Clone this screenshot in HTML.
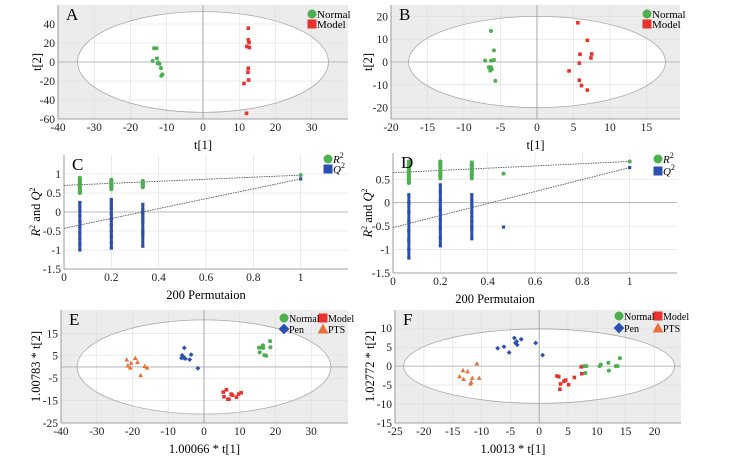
<!DOCTYPE html>
<html><head><meta charset="utf-8"><style>
body{margin:0;background:#fff;width:734px;height:457px;overflow:hidden}
svg, svg text{font-family:"Liberation Serif","DejaVu Serif",serif}
</style></head><body>
<svg id="fig" width="734" height="457" viewBox="0 0 734 457" font-family="Liberation Serif, DejaVu Serif, serif"></svg>
<script>
// ---- data ----
const aNormal=[[-13.5,14.5],[-12.8,14.5],[-13.9,1],[-12.7,3.8],[-12.5,-1.3],[-12,-2],[-11.6,-6.5],[-11.5,-14.5],[-11.2,-13],[-12.4,-0.6]];
const aModel=[[12.5,35.6],[12.5,23.3],[12.7,20.5],[12.1,16.3],[12.8,15.2],[12.5,-6.6],[12.4,-10.8],[12.6,-19],[11.3,-22.6],[12,-54]];
const bNormal=[[-6.3,13.6],[-5.9,5.1],[-7.1,0.6],[-6.3,0.6],[-5.9,0.9],[-6.6,-2.3],[-6.3,-2.3],[-6.4,-3.8],[-6.2,-3.2],[-5.7,-8.3]];
const bModel=[[5.6,17.2],[6.9,9.5],[5.9,3.4],[7.5,3.5],[7.4,1.8],[5.8,-0.5],[4.4,-3.9],[5.8,-8],[6.1,-10.3],[6.9,-12.3]];
const cR2=[[0.067,0.5],[0.067,0.55],[0.067,0.6],[0.067,0.65],[0.067,0.7],[0.067,0.75],[0.067,0.8],[0.067,0.85],[0.067,0.9],[0.2,0.6],[0.2,0.65],[0.2,0.7],[0.2,0.75],[0.2,0.8],[0.2,0.85],[0.333,0.65],[0.333,0.7],[0.333,0.75],[0.333,0.8],[0.333,0.82],[1,0.97]];
const cQ2=[[0.067,-1],[0.067,-0.85],[0.067,-0.7],[0.067,-0.55],[0.067,-0.4],[0.067,-0.25],[0.067,-0.1],[0.067,0.05],[0.067,0.15],[0.067,0.25],[0.2,-0.95],[0.2,-0.8],[0.2,-0.65],[0.2,-0.5],[0.2,-0.35],[0.2,-0.2],[0.2,-0.05],[0.2,0.1],[0.2,0.2],[0.2,0.33],[0.333,-0.9],[0.333,-0.6],[0.333,-0.5],[0.333,-0.25],[0.333,-0.15],[0.333,-0.05],[0.333,0.05],[0.333,0.2],[1,0.87]];
const cR2Line=[[0,0.7],[1,0.97]];
const cQ2Line=[[0,-0.43],[1,0.87]];
const dR2=[[0.067,0.42],[0.067,0.5],[0.067,0.6],[0.067,0.7],[0.067,0.8],[0.067,0.88],[0.2,0.52],[0.2,0.6],[0.2,0.7],[0.2,0.8],[0.2,0.88],[0.333,0.52],[0.333,0.6],[0.333,0.7],[0.333,0.8],[0.333,0.86],[0.467,0.62],[1,0.88]];
const dQ2=[[0.067,-1.18],[0.067,-1],[0.067,-0.8],[0.067,-0.6],[0.067,-0.4],[0.067,-0.2],[0.067,0],[0.067,0.17],[0.2,-0.92],[0.2,-0.75],[0.2,-0.55],[0.2,-0.35],[0.2,-0.15],[0.2,0.05],[0.2,0.25],[0.2,0.38],[0.333,-0.77],[0.333,-0.56],[0.333,-0.5],[0.333,-0.4],[0.333,-0.3],[0.333,-0.2],[0.333,-0.05],[0.333,0.05],[0.333,0.17],[0.467,-0.52],[1,0.75]];
const dR2Line=[[0,0.64],[1,0.88]];
const dQ2Line=[[0,-0.53],[1,0.75]];
const ePTS=[[-21.6,3.3],[-21.3,0.6],[-20.6,-0.3],[-20.4,1.8],[-19.2,4],[-18.6,2.2],[-17.7,-3.7],[-16.6,0.4],[-15.9,-0.3]];
const ePen=[[-5.5,8.5],[-6.1,5.2],[-6.3,4],[-5.6,4],[-5.2,3.7],[-3.6,5.5],[-4,3.3],[-1.7,-0.6],[-5.8,4.6]];
const eNormal=[[18.5,11.5],[15.4,8.6],[15.9,8.6],[16.5,9.6],[15.6,6.5],[16.9,5.3],[17.4,5],[18.6,8.8],[16.6,8.5]];
const eModel=[[6.3,-10.2],[5.4,-11.2],[5.6,-13.3],[6.7,-14.4],[7,-14.4],[7.6,-12.1],[9.1,-13.5],[9.7,-12.1],[10.4,-11.5],[8,-12.6]];
const fPen=[[-7.2,4.7],[-6.1,5.1],[-5.2,3.6],[-4.3,7.4],[-4.1,6.1],[-3.9,6.5],[-3.8,5.6],[-3.1,7.1],[-0.6,6.1],[0.6,2.9]];
const fPTS=[[-13.8,-2.7],[-13.2,-1.1],[-13.1,-3.4],[-12.4,-1.4],[-11.8,-4.2],[-11.6,-3.1],[-10.8,0.7],[-10.4,-3.1],[-11.9,-4.6]];
const fModel=[[3.1,-2.6],[3.4,-2.8],[3.7,-4.7],[3.6,-6.1],[4.3,-4],[4.6,-3.7],[5.1,-4.9],[6.1,-3],[7.3,-0.2],[7.4,-2]];
const fNormal=[[7.8,0],[8.2,0],[8,-1.8],[10.5,0],[10.7,0.4],[12,0.9],[12.1,-1.2],[13.3,0],[13.6,0],[14,2.1]];

const NS='http://www.w3.org/2000/svg';
const svg=document.getElementById('fig');
const FF='Liberation Serif, DejaVu Serif, serif';
function mk(tag,attrs,parent,name,text){const e=document.createElementNS(NS,tag);for(const k in attrs)e.setAttribute(k,attrs[k]);
if(tag==='text')e.setAttribute('font-family',FF);


if(text!==undefined)e.textContent=text;(parent||svg).appendChild(e);return e;}
const COL={green:'#4caf50',red:'#e8322d',blue:'#2b4fb0',orange:'#e8703a'};
function marker(g,shape,x,y,s,color,name){
 if(shape==='c')mk('circle',{cx:x,cy:y,r:s,fill:color},g,name);
 else if(shape==='s')mk('rect',{x:x-s,y:y-s,width:2*s,height:2*s,fill:color},g,name);
 else if(shape==='d')mk('path',{d:`M${x},${y-s*1.2}L${x+s*1.2},${y}L${x},${y+s*1.2}L${x-s*1.2},${y}Z`,fill:color},g,name);
 else mk('path',{d:`M${x},${y-s*1.2}L${x+s*1.2},${y+s}L${x-s*1.2},${y+s}Z`,fill:color},g,name);
}
function panel(p){
 const g=mk('g',{},svg,'panel-'+p.id);
 const sx=v=>p.x0+(v-p.xmin)/(p.xmax-p.xmin)*(p.x1-p.x0);
 const sy=v=>p.y1-(v-p.ymin)/(p.ymax-p.ymin)*(p.y1-p.y0);
 if(p.ell){const cx=sx(0),cy=sy(0),rx=sx(p.ell[0])-cx,ry=cy-sy(p.ell[1]);
  mk('path',{d:`M${p.x0},${p.y0}H${p.x1}V${p.y1}H${p.x0}Z M${cx-rx},${cy}a${rx},${ry} 0 1,0 ${2*rx},0a${rx},${ry} 0 1,0 ${-2*rx},0Z`,fill:'#ececec','fill-rule':'evenodd'},g,'confidence-region-shade');}
 p.xt.forEach(v=>{mk('line',{x1:sx(v),x2:sx(v),y1:p.y0,y2:p.y1,stroke:'#dcdcdc','stroke-width':0.6},g,'grid-x');
  mk('text',{x:sx(v),y:p.y1+12,'font-size':11.5,'text-anchor':'middle',fill:'#222'},g,'x-tick-label',String(v));});
 p.yt.forEach(v=>{mk('line',{x1:p.x0,x2:p.x1,y1:sy(v),y2:sy(v),stroke:'#dcdcdc','stroke-width':0.6},g,'grid-y');
  mk('text',{x:p.x0-3,y:sy(v)+4,'font-size':11.5,'text-anchor':'end',fill:'#222'},g,'y-tick-label',String(v));});
 if(p.ell){const cx=sx(0),cy=sy(0),rx=sx(p.ell[0])-cx,ry=cy-sy(p.ell[1]);
  mk('ellipse',{cx,cy,rx,ry,fill:'none',stroke:'#aaa','stroke-width':0.8},g,'hotelling-ellipse');
  mk('line',{x1:cx,x2:cx,y1:p.y0,y2:p.y1,stroke:'#999','stroke-width':0.8},g,'zero-line-x');}
 mk('line',{x1:p.x0,x2:p.x1,y1:sy(0),y2:sy(0),stroke:'#aaa','stroke-width':0.8},g,'zero-line-y');
 mk('line',{x1:p.x0,x2:p.x0,y1:p.y0,y2:p.y1,stroke:'#888','stroke-width':0.8},g,'y-axis');
 mk('line',{x1:p.x0,x2:p.x1,y1:p.y1,y2:p.y1,stroke:'#888','stroke-width':0.8},g,'x-axis');
 (p.lines||[]).forEach(l=>mk('line',{x1:sx(l[0][0]),y1:sy(l[0][1]),x2:sx(l[1][0]),y2:sy(l[1][1]),stroke:'#555','stroke-width':0.9,'stroke-dasharray':'1.5,1'},g,'regression-line'));
 (p.cols||[]).forEach(s=>{const xs=[...new Set(s.data.map(d=>d[0]))];xs.forEach(x=>{const v=s.data.filter(d=>d[0]===x).map(d=>d[1]);if(v.length>1)mk('line',{x1:sx(x),x2:sx(x),y1:sy(Math.min(...v)),y2:sy(Math.max(...v)),stroke:COL[s.color],'stroke-width':s.w},g,s.name+'-column');});});
 p.series.forEach(s=>s.data.forEach(d=>marker(g,s.shape,sx(d[0]),sy(d[1]),s.size||2,COL[s.color],s.name+'-point')));
 mk('text',{x:p.x0+8,y:p.y0+15,'font-size':17},g,'panel-letter',p.id);
 p.legend.forEach(l=>{marker(g,l.shape,l.x,l.y,4.5,COL[l.color],'legend-marker');
  const t=mk('text',{x:l.x+5,y:l.y+4,'font-size':l.fs||11},g,'legend-entry');
  if(l.sup){mk('tspan',{'font-style':'italic'},t,'legend-text',l.label);mk('tspan',{'font-size':8,dy:-5},t,'legend-sup','2');}else t.textContent=l.label;});
 mk('text',{x:(p.x0+p.x1)/2+(p.xlo||0),y:p.y1+30,'font-size':12.5,'text-anchor':'middle'},g,'x-axis-title',p.xlab);
 const yt=mk('text',{x:0,y:0,'font-size':12.5,'text-anchor':'middle',transform:`translate(${p.ylx},${(p.y0+p.y1)/2}) rotate(-90)`},g,'y-axis-title');
 if(p.ylabR){mk('tspan',{'font-style':'italic'},yt,'y-title-part','R');mk('tspan',{'font-size':8,dy:-5},yt,'y-title-part','2');mk('tspan',{dy:5},yt,'y-title-part',' and ');mk('tspan',{'font-style':'italic'},yt,'y-title-part','Q');mk('tspan',{'font-size':8,dy:-5},yt,'y-title-part','2');}
 else yt.textContent=p.ylab;
}
const r=(a,b,s)=>{const o=[];for(let v=a;v<=b+1e-9;v+=s)o.push(Math.round(v*10)/10);return o;};
panel({id:'A',x0:58,x1:348,y0:5,y1:119,xmin:-40,xmax:40,ymin:-60,ymax:60,xt:r(-40,30,10),yt:r(-60,40,20),ell:[34.6,53],xlab:'t[1]',ylab:'t[2]',ylx:41,
 series:[{data:aNormal,shape:'c',color:'green',name:'normal'},{data:aModel,shape:'s',color:'red',name:'model',size:1.8}],
 legend:[{shape:'c',color:'green',x:312,y:14,label:'Normal'},{shape:'s',color:'red',x:312,y:24,label:'Model'}]});
panel({id:'B',x0:391,x1:680,y0:5,y1:119,xmin:-20,xmax:19.6,ymin:-25,ymax:25,xt:r(-20,15,5),yt:r(-20,20,10),ell:[17.6,20],xlab:'t[1]',ylab:'t[2]',ylx:372,
 series:[{data:bNormal,shape:'c',color:'green',name:'normal'},{data:bModel,shape:'s',color:'red',name:'model',size:1.8}],
 legend:[{shape:'c',color:'green',x:647,y:14,label:'Normal'},{shape:'s',color:'red',x:647,y:24,label:'Model'}]});
panel({id:'C',x0:64,x1:348,y0:155,y1:269,xmin:0,xmax:1.2,ymin:-1.5,ymax:1.5,xt:[0,0.2,0.4,0.6,0.8,1],yt:[-1.5,-1,-0.5,0,0.5,1],xlab:'200 Permutaion',ylabR:true,ylx:40,
 lines:[cR2Line,cQ2Line],cols:[{data:cR2,color:'green',name:'r2',w:4},{data:cQ2,color:'blue',name:'q2',w:3}],
 series:[{data:cR2,shape:'c',color:'green',name:'r2'},{data:cQ2,shape:'s',color:'blue',name:'q2',size:1.6}],
 legend:[{shape:'c',color:'green',x:328,y:159,label:'R',sup:1},{shape:'s',color:'blue',x:328,y:169,label:'Q',sup:1}]});
panel({id:'D',x0:393,x1:677,y0:153,y1:273,xmin:0,xmax:1.2,ymin:-1.5,ymax:1.06,xt:[0,0.2,0.4,0.6,0.8,1],yt:[-1.5,-1,-0.5,0,0.5],xlab:'200 Permutaion',ylabR:true,ylx:372,xlo:-40,
 lines:[dR2Line,dQ2Line],cols:[{data:dR2,color:'green',name:'r2',w:4},{data:dQ2,color:'blue',name:'q2',w:3}],
 series:[{data:dR2,shape:'c',color:'green',name:'r2'},{data:dQ2,shape:'s',color:'blue',name:'q2',size:1.6}],
 legend:[{shape:'c',color:'green',x:658,y:159,label:'R',sup:1},{shape:'s',color:'blue',x:658,y:171,label:'Q',sup:1}]});
panel({id:'E',x0:61,x1:348,y0:310,y1:423,xmin:-40,xmax:40.3,ymin:-25,ymax:25.4,xt:r(-40,30,10),yt:[-25,-15,-5,5,15],ell:[35.5,21],xlab:'1.00066 * t[1]',ylab:'1.00783 * t[2]',ylx:40,
 series:[{data:ePTS,shape:'t',color:'orange',name:'pts'},{data:ePen,shape:'d',color:'blue',name:'pen'},{data:eNormal,shape:'c',color:'green',name:'normal'},{data:eModel,shape:'s',color:'red',name:'model',size:1.8}],
 legend:[{shape:'c',color:'green',x:284,y:318,label:'Normal',fs:10},{shape:'s',color:'red',x:323,y:318,label:'Model',fs:10},{shape:'d',color:'blue',x:284,y:329,label:'Pen',fs:10},{shape:'t',color:'orange',x:323,y:329,label:'PTS',fs:10}]});
panel({id:'F',x0:395,x1:681,y0:310,y1:423,xmin:-25,xmax:24.6,ymin:-15,ymax:14.8,xt:r(-25,20,5),yt:r(-15,10,5),ell:[23.5,9.8],xlab:'1.0013 * t[1]',ylab:'1.02772 * t[2]',ylx:374,xlo:-25,
 series:[{data:fPTS,shape:'t',color:'orange',name:'pts'},{data:fPen,shape:'d',color:'blue',name:'pen'},{data:fNormal,shape:'c',color:'green',name:'normal'},{data:fModel,shape:'s',color:'red',name:'model',size:1.8}],
 legend:[{shape:'c',color:'green',x:619,y:316,label:'Normal',fs:10},{shape:'s',color:'red',x:658,y:316,label:'Model',fs:10},{shape:'d',color:'blue',x:619,y:328,label:'Pen',fs:10},{shape:'t',color:'orange',x:658,y:328,label:'PTS',fs:10}]});
</script>
</body></html>
